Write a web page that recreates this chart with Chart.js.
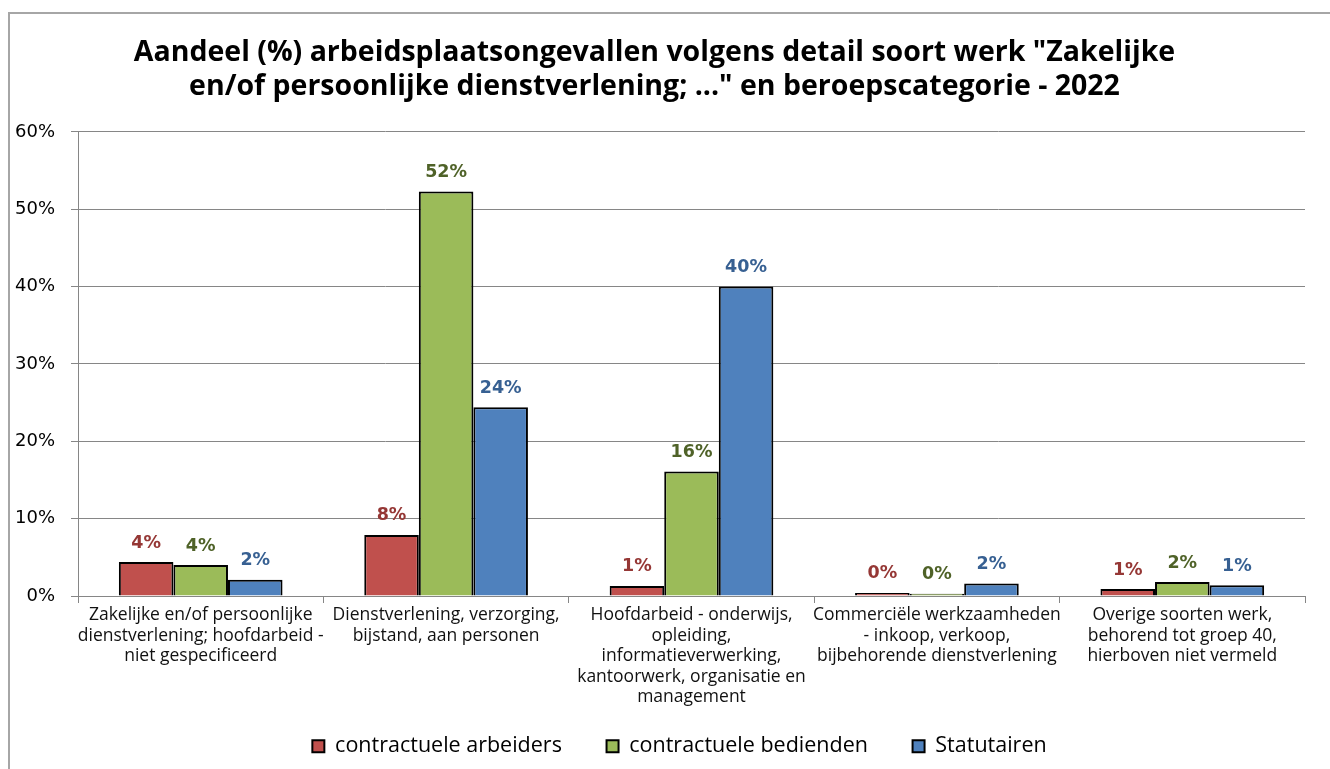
<!DOCTYPE html>
<html>
<head>
<meta charset="utf-8">
<script src="https://cdn.jsdelivr.net/npm/chart.js@4.4.1/dist/chart.umd.min.js"></script>
<style>
  html, body { margin: 0; padding: 0; background: #fff; overflow: hidden; }
  #frame { position: absolute; left: 8px; top: 12px; width: 1400px; height: 800px;
           border-left: 2px solid #a6a6a6; border-top: 2px solid #a6a6a6; }
  #wrap { position: absolute; left: 0; top: 0; width: 1330px; height: 769px; }
</style>
</head>
<body>
<div id="frame"></div>
<div id="wrap"><canvas id="chart_beroep_2022"></canvas></div>
<script>
// categorieen (x-as), meerdere regels per label
var categories = [
    ["Zakelijke en/of persoonlijke", "dienstverlening; hoofdarbeid -", "niet gespecificeerd"],
    ["Dienstverlening, verzorging,", "bijstand, aan personen"],
    ["Hoofdarbeid - onderwijs,", "opleiding,", "informatieverwerking,", "kantoorwerk, organisatie en", "management"],
    ["Commerciële werkzaamheden", "- inkoop, verkoop,", "bijbehorende dienstverlening"],
    ["Overige soorten werk,", "behorend tot groep 40,", "hierboven niet vermeld"]
];
var contractueleArbeiders = [4.4, 7.9, 1.3, 0.4, 0.9];
var contractueleBedienden = [4.0, 52.3, 16.1, 0.3, 1.8];
var statutairen = [2.1, 24.4, 40.0, 1.6, 1.4];
var yTicks = [0, 10, 20, 30, 40, 50, 60];

Chart.defaults.font.family = "'Open Sans', 'Noto Sans', sans-serif";
Chart.defaults.color = '#000';

var chart_beroep_2022 = new Chart(document.getElementById('chart_beroep_2022'), {
    type: 'bar',
    data: {
        labels: categories,
        datasets: [
            {
                label: 'contractuele arbeiders',
                data: contractueleArbeiders,
                backgroundColor: '#C0504D',
                borderColor: '#000',
                borderWidth: 2,
                labelColor: '#953735'
            },
            {
                label: 'contractuele bedienden',
                data: contractueleBedienden,
                backgroundColor: '#9BBB59',
                borderColor: '#000',
                borderWidth: 2,
                labelColor: '#4F6228'
            },
            {
                label: 'Statutairen',
                data: statutairen,
                backgroundColor: '#4F81BD',
                borderColor: '#000',
                borderWidth: 2,
                labelColor: '#376092'
            }
        ]
    },
    options: {
        animation: false,
        responsive: true,
        maintainAspectRatio: false,
        layout: {
            padding: { left: 4, right: 25, top: 0, bottom: 2 }
        },
        datasets: {
            bar: { categoryPercentage: 0.667, barPercentage: 1.0 }
        },
        plugins: {
            title: {
                display: true,
                text: [
                    'Aandeel (%) arbeidsplaatsongevallen volgens detail soort werk "Zakelijke',
                    'en/of persoonlijke dienstverlening; ..." en beroepscategorie - 2022'
                ],
                font: { size: 28.5, weight: 'bold', lineHeight: 1.19 },
                padding: { top: 36, bottom: 28 }
            },
            legend: {
                position: 'bottom',
                labels: {
                    boxWidth: 12,
                    boxHeight: 12,
                    padding: 12,
                    font: { size: 21.5 },
                    generateLabels: function(chart) {
                        var items = Chart.defaults.plugins.legend.labels.generateLabels(chart);
                        items.forEach(function(item, i) {
                            if (i < items.length - 1) item.text = item.text + '\u2003  ';
                        });
                        return items;
                    }
                }
            },
            tooltip: { enabled: false }
        },
        scales: {
            x: {
                offset: true,
                afterFit: function(scale) { scale.height = 127.5; },
                grid: {
                    offset: true,
                    drawOnChartArea: false,
                    drawTicks: true,
                    tickLength: 7,
                    color: '#868686'
                },
                border: { color: '#868686' },
                ticks: {
                    autoSkip: false,
                    maxRotation: 0,
                    minRotation: 0,
                    padding: 2,
                    color: '#111',
                    font: { size: 17.5, lineHeight: 1.17 }
                }
            },
            y: {
                min: 0,
                max: 60,
                afterFit: function(scale) { scale.width = 74; },
                afterBuildTicks: function(axis) {
                    axis.ticks = yTicks.map(function(v) { return { value: v }; });
                },
                grid: {
                    color: '#868686',
                    tickLength: 7
                },
                border: { color: '#868686' },
                ticks: {
                    padding: 16,
                    font: { size: 18, family: "'DejaVu Sans', sans-serif" },
                    callback: function(value) { return value + '%'; }
                }
            }
        }
    },
    plugins: [{
        // legenda staat in het origineel iets rechts van het midden
        id: 'legendShift',
        afterLayout: function(chart) {
            chart.legend.left += 25;
            chart.legend.right += 25;
        }
    }, {
        id: 'barValueLabels',
        afterDatasetsDraw: function(chart) {
            var ctx = chart.ctx;
            ctx.save();
            ctx.font = "bold 17.5px 'DejaVu Sans', sans-serif";
            ctx.textAlign = 'center';
            ctx.textBaseline = 'middle';
            chart.data.datasets.forEach(function(ds, i) {
                var meta = chart.getDatasetMeta(i);
                meta.data.forEach(function(bar, j) {
                    ctx.fillStyle = ds.labelColor;
                    ctx.fillText(Math.round(ds.data[j]) + '%', bar.x, bar.y - 19);
                });
            });
            ctx.restore();
        }
    }]
});
</script>
</body>
</html>
